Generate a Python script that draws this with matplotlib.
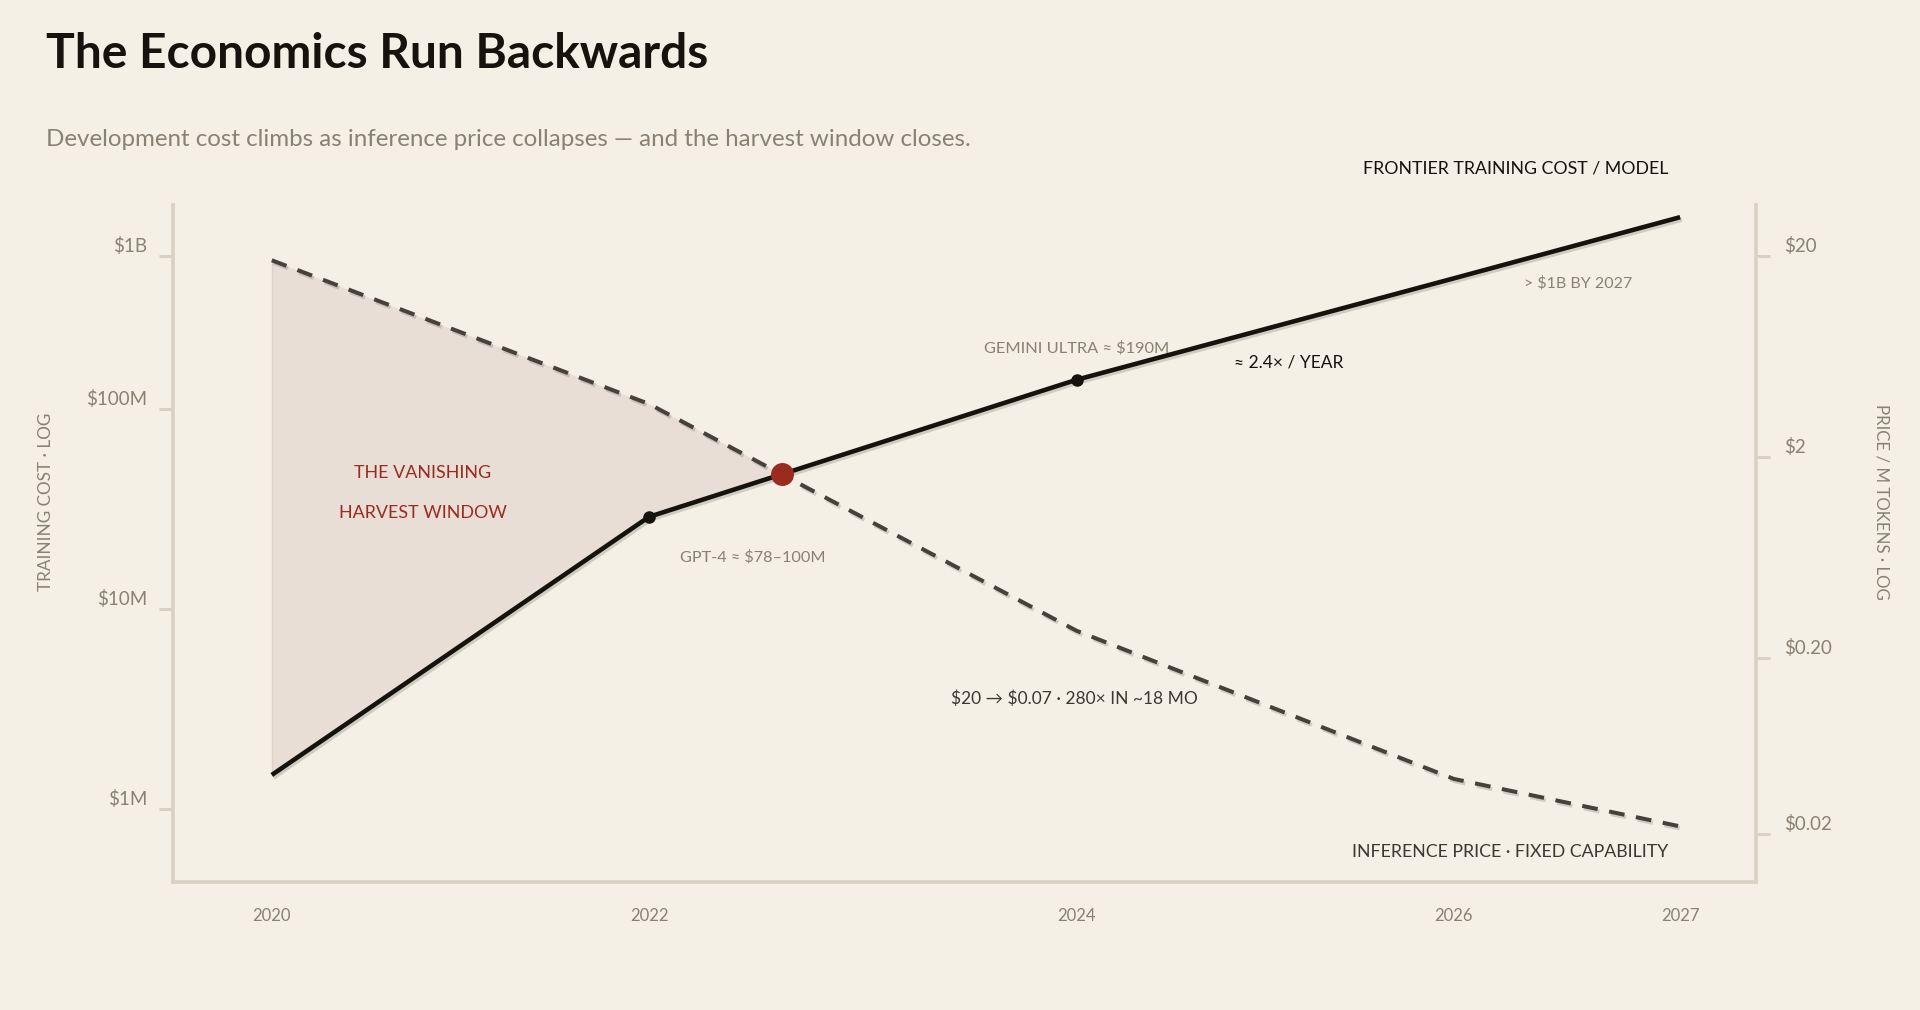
import numpy as np
import matplotlib
matplotlib.use("Agg")
import matplotlib.pyplot as plt
import matplotlib.patheffects as pe

# 数据
x_years = [2020.0, 2021.875, 2024.0, 2025.875, 2027.0]   # 点的位置（年）
x_labels = ["2020", "2022", "2024", "2026", "2027"]
train_cost = [1.48e6, 2.89e7, 1.40e8, 4.5e8, 9.1e8]      # 训练成本 $/模型
infer_price = [19.0, 3.66, 0.272, 0.0498, 0.0289]        # 推理价格 $/M tokens

left_ticks = [1e6, 1e7, 1e8, 5.83e8]
left_labels = ["\\$1M", "\\$10M", "\\$100M", "\\$1B"]
right_ticks = [20, 2, 0.2, 0.0265]
right_labels = ["\\$20", "\\$2", "\\$0.20", "\\$0.02"]

# 颜色
BG = "#f4f0e6"
AXC = "#d8d1c4"
GREY = "#8a8172"
DARK = "#16130f"
DASHC = "#46413a"
RED = "#9c2b1f"
FILL = "#e8ded6"

plt.rcParams["font.family"] = ["Lato", "DejaVu Sans"]

W, H = 1920, 1010
fig = plt.figure(figsize=(W / 100, H / 100), dpi=100, facecolor=BG)

def fx(px):
    return px / W

def fy(py):
    return 1 - py / H

# 坐标轴位置（像素）
L, R, T, B = 172.6, 1756, 204.5, 881.6
ax = fig.add_axes([fx(L), fy(B), (R - L) / W, (B - T) / H])
ax.set_facecolor(BG)
ax2 = ax.twinx()

ax.set_xlim(2019.507, 2027.377)
ax.set_yscale("log")
ax.set_ylim(4.335e5, 1.053e9)
ax2.set_yscale("log")
ax2.set_ylim(0.01535, 36.0)

shadow = [pe.SimplePatchShadow(offset=(1.5, -1.5), shadow_rgbFace="#b8b0a0", alpha=0.45), pe.Normal()]
for a in (ax, ax2):
    a.spines["top"].set_visible(False)
    for s in a.spines.values():
        s.set_color(AXC)
        s.set_linewidth(2.6)
        s.set_path_effects(shadow)
ax.spines["right"].set_visible(False)
ax2.spines["left"].set_visible(False)
ax2.spines["bottom"].set_visible(False)

# 刻度
ax.set_xticks(x_years, x_labels)
ax.tick_params(axis="x", length=0, pad=19, labelsize=12, labelcolor=GREY)
ax.yaxis.set_minor_locator(matplotlib.ticker.NullLocator())
ax2.yaxis.set_minor_locator(matplotlib.ticker.NullLocator())
ax.set_yticks(left_ticks, left_labels)
ax2.set_yticks(right_ticks, right_labels)
ax.tick_params(axis="y", length=10, width=2.2, color=AXC, pad=8, labelsize=13.5, labelcolor=GREY)
ax2.tick_params(axis="y", length=10, width=2.2, color=AXC, pad=10, labelsize=13.5, labelcolor=GREY)
up = matplotlib.transforms.ScaledTranslation(0, 8 / 72, fig.dpi_scale_trans)
for lab in ax.get_yticklabels() + ax2.get_yticklabels():
    lab.set_transform(lab.get_transform() + up)

# 推理价格换算到左轴坐标
disp = ax2.transData.transform(np.column_stack([x_years, infer_price]))
infer_on_left = ax.transData.inverted().transform(disp)[:, 1]

# 交点（对数空间线性插值）
lt = np.log10(train_cost)
li = np.log10(infer_on_left)
d = li - lt
k = np.where(np.sign(d[:-1]) != np.sign(d[1:]))[0][0]
frac = d[k] / (d[k] - d[k + 1])
cx = x_years[k] + frac * (x_years[k + 1] - x_years[k])
cy = 10 ** (lt[k] + frac * (lt[k + 1] - lt[k]))

# 收割窗口填充
fx_pts = list(x_years[:k + 1]) + [cx]
top = list(infer_on_left[:k + 1]) + [cy]
bot = list(train_cost[:k + 1]) + [cy]
ax.fill_between(fx_pts, bot, top, color=FILL, lw=0, zorder=1)
ax.plot([x_years[0], x_years[0]], [train_cost[0], infer_on_left[0]], color="#ddd1c8", lw=1, zorder=1)

lshadow = [pe.SimpleLineShadow(offset=(1.2, -1.8), shadow_color="#6b6253", alpha=0.25), pe.Normal()]
ax.plot(x_years, train_cost, color=DARK, lw=3.3, zorder=4, solid_capstyle="butt", path_effects=lshadow)
ax.plot(x_years[1:3], train_cost[1:3], "o", color=DARK, ms=8, zorder=5)
ax2.plot(x_years, infer_price, color=DASHC, lw=2.9, dashes=(3.9, 2.9), zorder=3, path_effects=lshadow)
ax2.plot([cx], [10 ** (np.interp(cx, x_years, np.log10(infer_price)))], "o", color=RED, ms=15.5, zorder=6)

# 标题
fig.text(fx(46), fy(54), "The Economics Run Backwards", fontsize=34.5, fontweight="bold", color=DARK, ha="left", va="center")
fig.text(fx(46), fy(139.5), "Development cost climbs as inference price collapses \u2014 and the harvest window closes.",
         fontsize=17.4, color=GREY, ha="left", va="center")

# 注释
fig.text(fx(1668), fy(169), "FRONTIER TRAINING COST / MODEL", fontsize=12.8, color=DARK, ha="right", va="center")
fig.text(fx(1632), fy(283), "> \\$1B BY 2027", fontsize=11.5, color=GREY, ha="right", va="center")
fig.text(fx(984), fy(348), "GEMINI ULTRA \u2248 \\$190M", fontsize=11.8, color=GREY, ha="left", va="center")
fig.text(fx(1234), fy(362), "\u2248 2.4\u00d7 / YEAR", fontsize=12.5, color=DARK, ha="left", va="center")
fig.text(fx(422.5), fy(473), "THE VANISHING", fontsize=12.9, color=RED, ha="center", va="center")
fig.text(fx(422.5), fy(513), "HARVEST WINDOW", fontsize=12.9, color=RED, ha="center", va="center")
fig.text(fx(680), fy(557), "GPT-4 \u2248 \\$78\u2013100M", fontsize=11.7, color=GREY, ha="left", va="center")
fig.text(fx(951), fy(699), "\\$20 \u2192 \\$0.07 \u00b7 280\u00d7 IN ~18 MO", fontsize=12.5, color="#3d3831", ha="left", va="center")
fig.text(fx(1668), fy(852), "INFERENCE PRICE \u00b7 FIXED CAPABILITY", fontsize=12.8, color="#3d3831", ha="right", va="center")

fig.text(fx(46.5), fy(502), "TRAINING COST \u00b7 LOG", fontsize=12.3, color=GREY, rotation=90, ha="center", va="center")
fig.text(fx(1882), fy(502), "PRICE / M TOKENS \u00b7 LOG", fontsize=12.2, color=GREY, rotation=270, ha="center", va="center")

fig.savefig("out.png", dpi=100, facecolor=BG)
